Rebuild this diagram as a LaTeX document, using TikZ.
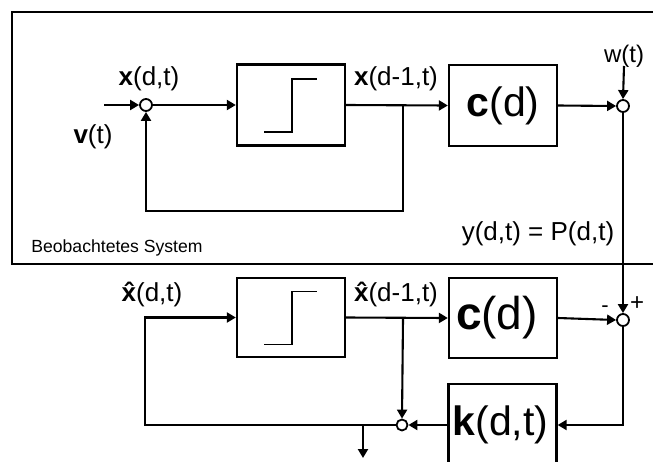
\documentclass[tikz,border=0pt]{standalone}
\usepackage{fontspec}
\setmainfont{Liberation Sans}
\usetikzlibrary{arrows.meta,positioning}
\newcommand\sigfont{\fontsize{26}{30}\selectfont}
\newcommand\blkfont{\fontsize{41}{46}\selectfont}
\newcommand\xhat{\textbf{\accent"02C6 x}}
\tikzset{
  blk/.style={draw, line width=2.3pt, minimum width=108pt, minimum height=81pt, inner sep=0pt},
  sumpt/.style={circle, draw, fill=white, line width=1.8pt, minimum size=12pt, inner sep=0pt},
  sig/.style={line width=2.1pt, -{Triangle[length=9pt,width=10pt]}},
  lab/.style={font=\sigfont, inner sep=0pt, anchor=base},
  stepline/.style={line width=1.8pt}
}

\begin{document}
\begin{tikzpicture}[x=1pt,y=-1pt]
\clip (0,0) rectangle (653,461);

% observed system frame
\draw[line width=1.5pt] (670,12) -- (12,12) -- (12,264) -- (670,264);
\node[lab, font=\fontsize{17.6}{20}\selectfont] (beob) at (117,252) {Beobachtetes System};

% upper row
\node[sumpt] (sA) at (146,105) {};
\node[blk] (stA) at (291,105) {};
\node[blk, font=\blkfont] (cA) at (503,105.5) {\textbf{c}(d)};
\node[sumpt] (sB) at (623,106) {};
\coordinate (vin) at (104,105);
\coordinate (brA) at (403,105);
\coordinate (lpA) at (403,211);

\node[lab] (xA) at (149,85) {\textbf{x}(d,t)};
\node[lab] (vA) at (93,143) {\textbf{v}(t)};
\node[lab] (xdA) at (396,85) {\textbf{x}(d-1,t)};
\node[lab, font=\fontsize{24}{28}\selectfont] (wA) at (624,62) {w(t)};
\node[lab] (yA) at (538,240) {y(d,t) = P(d,t)};

\draw[sig] (vin) -- (sA.west);
\draw[sig] (sA.east) -- (stA.west);
\draw[sig] (stA.east) -- (cA.west);
\draw[sig] (brA) -- (lpA) -| (sA.south);
\draw[sig] (cA.east) -- (sB.west);
\draw[sig] (wA.south |- 0,66) -- (sB.north);

% lower row (observer)
\node[blk, minimum height=79pt] (stB) at (291,317.5) {};
\node[blk, minimum height=80pt, text width=94pt, align=left, font=\fontsize{46}{50}\selectfont] (cB) at (503,318) {\textbf{c}(d)};
\node[sumpt] (sC) at (623,320) {};
\node[blk, minimum height=82pt, text width=100pt, align=left, font=\blkfont] (kB) at (502.5,425) {\textbf{k}(d,t)};
\node[sumpt, minimum size=11pt] (sD) at (402,425) {};
\coordinate (brB) at (403,319);
\coordinate (lpB) at (145,425);
\coordinate (brC) at (363,425);
\coordinate (outB) at (363,458);

\node[lab] (xhB) at (152,301) {\xhat(d,t)};
\node[lab] (xhdB) at (396,301) {\xhat(d-1,t)};
\node[lab, font=\fontsize{22}{24}\selectfont] (minus) at (605,312) {-};
\node[lab, font=\fontsize{24}{28}\selectfont] (plus) at (637,310) {+};

\draw[sig] (sB.south) -- (sC.north);
\draw[sig] (stB.east) -- (cB.west);
\draw[sig] (brB) -- (sD.north);
\draw[sig] (cB.east) -- (sC.west);
\draw[sig] (sC.south) |- (kB.east);
\draw[sig] (kB.west) -- (sD.east);
\draw[sig] (sD.west) -- (lpB) |- (stB.west);
\draw[sig] (brC) -- (outB);

% step glyphs
\foreach \b in {stA,stB}
  \draw[stepline] (\b.center) ++(-27,27) -- ++(28,0) -- ++(0,-53) -- ++(25,0);
\end{tikzpicture}
\end{document}
